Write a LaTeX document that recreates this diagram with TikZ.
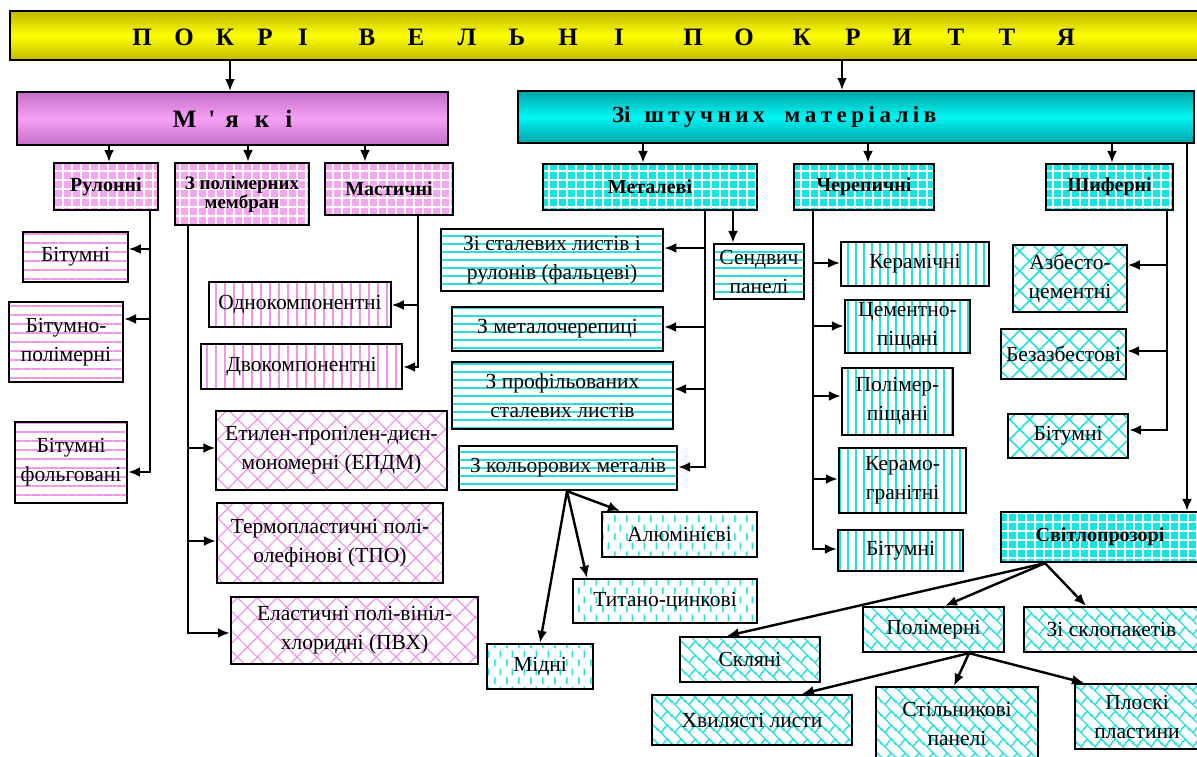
\documentclass[tikz,border=0pt]{standalone}
\usepackage{fontspec}
\setmainfont{Liberation Serif}
\usetikzlibrary{arrows.meta,patterns,patterns.meta}
\definecolor{pinkfill}{RGB}{244,166,238}
\definecolor{pinkline}{RGB}{238,150,232}
\definecolor{cyanfill}{RGB}{20,228,228}
\definecolor{cyanline}{RGB}{40,222,222}
\definecolor{bannerdark}{RGB}{190,184,0}
\definecolor{bannerlight}{RGB}{255,255,0}
\definecolor{softdark}{RGB}{196,110,200}
\definecolor{softlight}{RGB}{246,160,246}
\definecolor{synthdark}{RGB}{0,165,168}
\definecolor{synthlight}{RGB}{0,245,245}
% short vertical dashes, staggered
\pgfdeclarepatternformonly{vdashes}{\pgfpointorigin}{\pgfpoint{12pt}{18pt}}{\pgfpoint{12pt}{18pt}}{%
  \pgfsetlinewidth{1.6pt}%
  \pgfpathmoveto{\pgfpoint{3pt}{1pt}}\pgfpathlineto{\pgfpoint{3pt}{8pt}}%
  \pgfpathmoveto{\pgfpoint{9pt}{10pt}}\pgfpathlineto{\pgfpoint{9pt}{17pt}}%
  \pgfusepath{stroke}}
% diagonal bricks
\pgfdeclarepatternformonly{diagbricks}{\pgfpointorigin}{\pgfpoint{14pt}{14pt}}{\pgfpoint{14pt}{14pt}}{%
  \pgfsetlinewidth{1.4pt}%
  \pgfpathmoveto{\pgfpoint{-1pt}{15pt}}\pgfpathlineto{\pgfpoint{15pt}{-1pt}}%
  \pgfpathmoveto{\pgfpoint{-1pt}{1pt}}\pgfpathlineto{\pgfpoint{1pt}{-1pt}}%
  \pgfpathmoveto{\pgfpoint{13pt}{15pt}}\pgfpathlineto{\pgfpoint{15pt}{13pt}}%
  \pgfpathmoveto{\pgfpoint{3pt}{11pt}}\pgfpathlineto{\pgfpoint{6.5pt}{14.5pt}}%
  \pgfpathmoveto{\pgfpoint{5.5pt}{-0.5pt}}\pgfpathlineto{\pgfpoint{10pt}{4pt}}%
  \pgfusepath{stroke}}
\tikzset{%
  box/.style        = {draw, line width=2.3pt, inner sep=0pt, align=center,
                       font=\fontsize{21.5}{29}\selectfont},
  head/.style       = {box, font=\fontsize{20}{22}\selectfont\bfseries},
  banner/.style     = {draw, line width=2pt, inner sep=0pt,
                       font=\fontsize{25}{30}\selectfont\bfseries},
  bannerletter/.style = {inner sep=0pt, font=\fontsize{25}{30}\selectfont\bfseries},
  pinkgrid/.style   = {head, preaction={fill=pinkfill},
                       pattern={Hatch[angle=0,distance=9pt,line width=2pt]}, pattern color=white},
  cyangrid/.style   = {head, preaction={fill=cyanfill},
                       pattern={Hatch[angle=0,distance=9pt,line width=2pt]}, pattern color=white},
  pinkhlines/.style = {box, pattern={Lines[angle=0,distance=9pt,line width=1.5pt]}, pattern color=pinkline},
  pinkvlines/.style = {box, pattern={Lines[angle=90,distance=9pt,line width=1.5pt]}, pattern color=pinkline},
  pinkcross/.style  = {box, pattern={Hatch[angle=45,distance=14pt,line width=1.2pt]}, pattern color=pinkline},
  cyanhlines/.style = {box, pattern={Lines[angle=0,distance=8pt,line width=2.6pt]}, pattern color=cyanline},
  cyanvlines/.style = {box, pattern={Lines[angle=90,distance=8pt,line width=2pt]}, pattern color=cyanline},
  cyancross/.style  = {box, pattern={Hatch[angle=45,distance=14pt,line width=1.6pt]}, pattern color=cyanline},
  cyandash/.style   = {box, pattern=vdashes, pattern color=cyanline},
  cyanbrick/.style  = {box, pattern=diagbricks, pattern color=cyanline},
  link/.style       = {line width=2.4pt},
  arr/.style        = {link, -{Latex[length=12pt,width=10pt]}}
}
\newcommand{\lsp}{\hspace{4.5pt}}

\begin{document}
\begin{tikzpicture}[x=1pt, y=-1pt]
  \useasboundingbox[fill=white] (0,0) rectangle (1197,756);

  % top level
  \node[banner, top color=bannerdark, bottom color=bannerdark, middle color=bannerlight,
        minimum width=1189pt, minimum height=49pt] (top) at (604.5,35.5) {};
  \foreach \ch/\cx in {П/142,О/184,К/225,Р/265,І/303,В/367,Е/416,Л/467,Ь/517,Н/568,І/619,
                       П/693,О/744,К/802,Р/853,И/902,Т/956,Т/1007,Я/1066}
    \node[bannerletter] (t\cx) at (\cx,37) {\ch};

  \node[banner, top color=softdark, bottom color=softdark, middle color=softlight,
        minimum width=431pt, minimum height=53pt] (soft) at (232.5,118.5)
        {М\hspace{12pt}\textquotesingle\hspace{10pt}я\hspace{16pt}к\hspace{16pt}і};
  \node[banner, top color=synthdark, bottom color=synthdark, middle color=synthlight,
        font=\fontsize{23}{28}\selectfont\bfseries,
        minimum width=676pt, minimum height=52pt] (synth) at (856,117)
        {\makebox[488pt][l]{Зі\hspace{14pt}ш\lsp т\lsp у\lsp ч\lsp н\lsp и\lsp х\hspace{20pt}м\lsp а\lsp т\lsp е\lsp р\lsp і\lsp а\lsp л\lsp і\lsp в}};

  % soft roofs
  \node[pinkgrid, minimum width=104pt, minimum height=47pt] (rolled) at (106,186.5) {Рулонні};
  \node[pinkgrid, font=\fontsize{19}{19}\selectfont\bfseries,
        minimum width=134pt, minimum height=62pt] (membr) at (242,194) {З полімерних\\мембран};
  \node[pinkgrid, minimum width=128pt, minimum height=52pt] (mastic) at (389,189) {Мастичні};

  \node[pinkhlines, minimum width=105pt, minimum height=50pt] (bit1) at (75.5,257) {Бітумні};
  \node[pinkhlines, minimum width=114pt, minimum height=80pt] (bitpol) at (66,342) {Бітумно-\\полімерні};
  \node[pinkhlines, minimum width=112pt, minimum height=81pt] (bitfoil) at (71,462.5) {Бітумні\\фольговані};

  \node[pinkvlines, minimum width=182pt, minimum height=45pt] (onecomp) at (300,304.5) {Однокомпонентні};
  \node[pinkvlines, minimum width=201pt, minimum height=45pt] (twocomp) at (301.5,366.5) {Двокомпонентні};

  \node[pinkcross, minimum width=231pt, minimum height=79pt] (epdm) at (331.5,450.5) {Етилен-пропілен-диєн-\\мономерні (ЕПДМ)};
  \node[pinkcross, minimum width=226pt, minimum height=80pt] (tpo) at (330,543) {Термопластичні полі-\\олефінові (ТПО)};
  \node[pinkcross, minimum width=247pt, minimum height=67pt] (pvc) at (354.5,630.5) {Еластичні полі-вініл-\\хлоридні (ПВХ)};

  % roofs of piece materials
  \node[cyangrid, minimum width=214pt, minimum height=46pt] (metal) at (650,187) {Металеві};
  \node[cyangrid, minimum width=140pt, minimum height=46pt] (tile) at (864,187) {Черепичні};
  \node[cyangrid, minimum width=127pt, minimum height=46pt] (slate) at (1109.5,187) {Шиферні};
  \node[cyangrid, minimum width=198pt, minimum height=50pt] (light) at (1100,537) {Світлопрозорі};

  \node[cyanhlines, minimum width=222pt, minimum height=62pt] (steel) at (552,260) {Зі сталевих листів і\\рулонів (фальцеві)};
  \node[cyanhlines, minimum width=90pt, minimum height=55pt] (sandw) at (759,271.5) {Сендвич\\панелі};
  \node[cyanhlines, minimum width=211pt, minimum height=44pt] (mtile) at (557.5,329) {З металочерепиці};
  \node[cyanhlines, minimum width=221pt, minimum height=67pt] (prof) at (562.5,395.5) {З профільованих\\сталевих листів};
  \node[cyanhlines, minimum width=218pt, minimum height=44pt] (color) at (568,468) {З кольорових металів};

  \node[cyandash, minimum width=155pt, minimum height=45pt] (alu) at (679.5,534.5) {Алюмінієві};
  \node[cyandash, minimum width=184pt, minimum height=44pt] (titan) at (665,601) {Титано-цинкові};
  \node[cyandash, minimum width=106pt, minimum height=45pt] (copper) at (540,666.5) {Мідні};

  \node[cyanvlines, minimum width=148pt, minimum height=44pt] (ceram) at (915,264) {Керамічні};
  \node[cyanvlines, minimum width=125pt, minimum height=53pt] (cemsand) at (907.5,326.5) {Цементно-\\піщані};
  \node[cyanvlines, minimum width=111pt, minimum height=67pt] (polsand) at (897.5,401.5) {Полімер-\\піщані};
  \node[cyanvlines, minimum width=127pt, minimum height=65pt] (cergran) at (902.5,480.5) {Керамо-\\гранітні};
  \node[cyanvlines, minimum width=125pt, minimum height=41pt] (bittile) at (900.5,550.5) {Бітумні};

  \node[cyancross, minimum width=114pt, minimum height=67pt] (asbest) at (1070,278.5) {Азбесто-\\цементні};
  \node[cyancross, minimum width=125pt, minimum height=50pt] (nonasb) at (1063.5,354) {Безазбестові};
  \node[cyancross, minimum width=120pt, minimum height=44pt] (bitslate) at (1068,436) {Бітумні};

  \node[cyanbrick, minimum width=140pt, minimum height=45pt] (glass) at (750,659.5) {Скляні};
  \node[cyanbrick, minimum width=141pt, minimum height=45pt] (poly) at (933.5,629.5) {Полімерні};
  \node[cyanbrick, minimum width=175pt, minimum height=45pt] (glassunit) at (1111.5,629.5) {Зі склопакетів};
  \node[cyanbrick, minimum width=200pt, minimum height=50pt] (wave) at (752,720) {Хвилясті листи};
  \node[cyanbrick, minimum width=162pt, minimum height=73pt] (honey) at (957,723.5) {Стільникові\\панелі};
  \node[cyanbrick, minimum width=124pt, minimum height=65pt] (flat) at (1137,716.5) {Плоскі\\пластини};

  % connectors
  \draw[arr] (top.south -| 230,0) -- (soft.north -| 230,0);
  \draw[arr] (top.south -| 842,0) -- (synth.north -| 842,0);

  \draw[arr] (soft.south -| 109,0) -- (rolled.north -| 109,0);
  \draw[arr] (soft.south -| 248,0) -- (membr.north -| 248,0);
  \draw[arr] (soft.south -| 365,0) -- (mastic.north -| 365,0);

  \draw[arr] (synth.south -| 643,0) -- (metal.north -| 643,0);
  \draw[arr] (synth.south -| 868,0) -- (tile.north -| 868,0);
  \draw[arr] (synth.south -| 1112,0) -- (slate.north -| 1112,0);
  \draw[arr] (synth.south -| 1187,0) -- (light.north -| 1187,0);

  \draw[arr] (rolled.south -| 150,0) |- (bit1.east |- 0,249);
  \draw[arr] (rolled.south -| 150,0) |- (bitpol.east |- 0,319);
  \draw[arr] (rolled.south -| 150,0) |- (bitfoil.east |- 0,472);

  \draw[arr] (mastic.south -| 418,0) |- (onecomp.east |- 0,305);
  \draw[arr] (mastic.south -| 418,0) |- (twocomp.east |- 0,367);

  \draw[arr] (membr.south -| 188,0) |- (epdm.west |- 0,448);
  \draw[arr] (membr.south -| 188,0) |- (tpo.west |- 0,541);
  \draw[arr] (membr.south -| 188,0) |- (pvc.west |- 0,633);

  \draw[arr] (metal.south -| 705,0) |- (steel.east |- 0,248);
  \draw[arr] (metal.south -| 705,0) |- (mtile.east |- 0,327);
  \draw[arr] (metal.south -| 705,0) |- (prof.east |- 0,389);
  \draw[arr] (metal.south -| 705,0) |- (color.east |- 0,467);
  \draw[arr] (metal.south -| 733,0) -- (sandw.north -| 733,0);

  \draw[arr] (color.south -| 567,0) -- (alu.north -| 620,0);
  \draw[arr] (color.south -| 567,0) -- (titan.north -| 587,0);
  \draw[arr] (color.south -| 567,0) -- (copper.north -| 540,0);

  \draw[arr] (tile.south -| 813,0) |- (ceram.west |- 0,263);
  \draw[arr] (tile.south -| 813,0) |- (cemsand.west |- 0,326);
  \draw[arr] (tile.south -| 813,0) |- (polsand.west |- 0,396);
  \draw[arr] (tile.south -| 813,0) |- (cergran.west |- 0,479);
  \draw[arr] (tile.south -| 813,0) |- (bittile.west |- 0,549);

  \draw[arr] (slate.south -| 1167,0) |- (asbest.east |- 0,265);
  \draw[arr] (slate.south -| 1167,0) |- (nonasb.east |- 0,351);
  \draw[arr] (slate.south -| 1167,0) |- (bitslate.east |- 0,430);

  \draw[arr] (light.south -| 1045,0) -- (glass.north -| 727,0);
  \draw[arr] (light.south -| 1045,0) -- (poly.north -| 945,0);
  \draw[arr] (light.south -| 1045,0) -- (glassunit.north -| 1086,0);

  \draw[arr] (poly.south -| 969,0) -- (wave.north -| 802,0);
  \draw[arr] (poly.south -| 969,0) -- (honey.north -| 954,0);
  \draw[arr] (poly.south -| 969,0) -- (flat.north -| 1084,0);
\end{tikzpicture}
\end{document}
